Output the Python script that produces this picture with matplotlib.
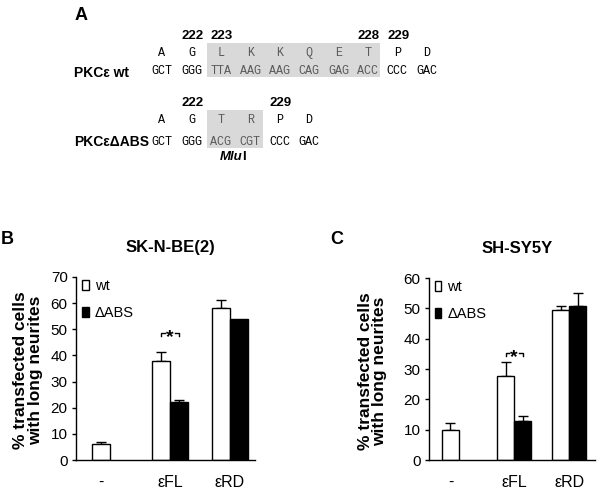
import matplotlib
matplotlib.use("Agg")
import matplotlib.pyplot as plt
from matplotlib.patches import Rectangle, Patch

plt.rcParams['font.family'] = ['Liberation Sans', 'DejaVu Sans']

# ---------------- data ----------------
# Panel A: sequences
wt_residues = ['A', 'G', 'L', 'K', 'K', 'Q', 'E', 'T', 'P', 'D']
wt_codons = ['GCT', 'GGG', 'TTA', 'AAG', 'AAG', 'CAG', 'GAG', 'ACC', 'CCC', 'GAC']
wt_numbers = {1: '222', 2: '223', 7: '228', 8: '229'}
wt_shaded = (2, 7)
abs_residues = ['A', 'G', 'T', 'R', 'P', 'D']
abs_codons = ['GCT', 'GGG', 'ACG', 'CGT', 'CCC', 'GAC']
abs_numbers = {1: '222', 4: '229'}
abs_shaded = (2, 3)

# Panels B and C
categories = ['-', 'εFL', 'εRD']
series = ['wt', 'ΔABS']
b_wt = [6.1, 37.9, 58.1]
b_wt_err = [0.9, 3.3, 3.2]
b_abs = [None, 22.0, 54.0]
b_abs_err = [None, 1.0, 0.0]
c_wt = [9.9, 27.6, 49.6]
c_wt_err = [2.2, 4.6, 1.3]
c_abs = [None, 12.7, 50.7]
c_abs_err = [None, 1.7, 4.2]

W, H = 600, 494
fig = plt.figure(figsize=(W / 100, H / 100), dpi=100)


def fx(x):
    return x / W


def fy(y):
    return 1 - y / H


# ---------------- Panel A ----------------
col_x0, col_dx = 162, 29.4
mono = 'Liberation Mono'
gray_txt = '#5a5a5a'


def seq_block(residues, codons, numbers, shaded, y_num, y_res, y_cod, box_top, box_bot):
    s0, s1 = shaded
    x_left = col_x0 + col_dx * s0 - col_dx / 2 + 0.5
    x_right = col_x0 + col_dx * s1 + col_dx / 2 - 2
    fig.patches.append(Rectangle((fx(x_left), fy(box_bot)), fx(x_right - x_left),
                                 (box_bot - box_top) / H, transform=fig.transFigure,
                                 facecolor='#d9d9d9', edgecolor='none', zorder=0))
    for i, (r, c) in enumerate(zip(residues, codons)):
        x = col_x0 + col_dx * i
        col = gray_txt if s0 <= i <= s1 else 'black'
        fig.text(fx(x), fy(y_res), r, family=mono, fontsize=8.5, color=col,
                 ha='center', va='center')
        fig.text(fx(x), fy(y_cod), c, family=mono, fontsize=8.5, color=col,
                 ha='center', va='center')
    for i, n in numbers.items():
        x = col_x0 + col_dx * i
        fig.text(fx(x + 1), fy(y_num), n, fontsize=9.5, fontweight='bold',
                 ha='center', va='center')


fig.text(fx(81), fy(15), 'A', fontsize=13, fontweight='bold', ha='center', va='center')
seq_block(wt_residues, wt_codons, wt_numbers, wt_shaded, 36, 53, 71, 43, 77)
fig.text(fx(74), fy(73), 'PKCε wt', fontsize=10, fontweight='bold', ha='left', va='center')
seq_block(abs_residues, abs_codons, abs_numbers, abs_shaded, 103, 120, 142, 110, 148)
fig.text(fx(74), fy(142), 'PKCεΔABS', fontsize=10, fontweight='bold', ha='left', va='center')
fig.text(fx(242.5), fy(157), 'Mlu', fontsize=9.5, fontweight='bold', style='italic',
         ha='right', va='center')
fig.text(fx(242.5), fy(157), 'I', fontsize=9.5, fontweight='bold', ha='left', va='center')


# ---------------- Panels B, C ----------------
def bar_panel(rect, wt, wt_err, ab, ab_err, ymax, step, xlim, width, title,
              title_x, letter_xy, sig_y, ylabel_x):
    ax = fig.add_axes(rect)
    xs = list(range(len(categories)))
    tick_pos = []
    for i in xs:
        single = ab[i] is None
        xw = i - width / 2
        ax.bar(xw, wt[i], width=width, color='white', edgecolor='black',
               linewidth=1.0, zorder=2)
        ax.errorbar(xw, wt[i], yerr=[[0], [wt_err[i]]], fmt='none', ecolor='black',
                    elinewidth=1.0, capsize=3.5, capthick=1.0, zorder=1)
        if not single:
            xa = i + width / 2
            ax.bar(xa, ab[i], width=width, color='black', edgecolor='black',
                   linewidth=1.0, zorder=2)
            if ab_err[i]:
                ax.errorbar(xa, ab[i], yerr=[[0], [ab_err[i]]], fmt='none',
                            ecolor='black', elinewidth=1.0, capsize=3.5,
                            capthick=1.0, zorder=1)
            tick_pos.append(i)
        else:
            tick_pos.append(xw)
    ax.set_xlim(*xlim)
    ax.set_ylim(0, ymax)
    ax.set_yticks(range(0, ymax + 1, step))
    ax.set_xticks(tick_pos)
    ax.set_xticklabels(categories)
    for s in ('top', 'right'):
        ax.spines[s].set_visible(False)
    for s in ('left', 'bottom'):
        ax.spines[s].set_linewidth(1.0)
    ax.tick_params(axis='x', length=0, pad=11, labelsize=11.5)
    ax.tick_params(axis='y', length=3, width=1, pad=3, labelsize=11)
    ax.set_ylabel('% transfected cells\nwith long neurites', fontsize=12.5,
                  fontweight='bold', linespacing=1.0)
    ax.yaxis.set_label_coords(ylabel_x, 0.49)
    ax.text(title_x, 1.16, title, transform=ax.transAxes, fontsize=12,
            fontweight='bold', ha='center', va='center')
    fig.text(fx(letter_xy[0]), fy(letter_xy[1]), letter_xy[2], fontsize=13,
             fontweight='bold', ha='center', va='center')
    # significance bracket on εFL
    x1, x2 = 1 - width / 2, 1 + width / 2
    drop = ymax * 0.018
    gap = width * 0.3
    ax.plot([x1, x1, 1 - gap], [sig_y - drop, sig_y, sig_y], color='black', lw=1)
    ax.plot([1 + gap, x2, x2], [sig_y, sig_y, sig_y - drop], color='black', lw=1)
    ax.text(1, sig_y - ymax * 0.025, '*', fontsize=14, fontweight='bold',
            ha='center', va='center')
    handles = [Patch(facecolor='white', edgecolor='black', linewidth=1.0),
               Patch(facecolor='black', edgecolor='black', linewidth=1.0)]
    ax.legend(handles, series, loc='upper left', bbox_to_anchor=(0.035, 0.99),
              frameon=False, fontsize=10.5, handlelength=0.45, handleheight=0.7,
              handletextpad=0.4, labelspacing=0.9, borderpad=0, borderaxespad=0)
    return ax


# Panel B axes: x 76..255 px, y 277..460 px
bar_panel([fx(76), fy(460), (255 - 76) / W, (460 - 277) / H], b_wt, b_wt_err,
          b_abs, b_abs_err, 70, 10, (-0.567, 2.417), 0.3, 'SK-N-BE(2)', 0.525,
          (7, 240, 'B'), 48.6, -0.185)
# Panel C axes: x 429..595 px, y 278..460 px
bar_panel([fx(429), fy(460), (595 - 429) / W, (460 - 278) / H], c_wt, c_wt_err,
          c_abs, c_abs_err, 60, 10, (-0.545, 2.47), 0.31, 'SH-SY5Y', 0.53,
          (337, 240, 'C'), 35.4, -0.25)

fig.savefig('out.png', dpi=100)
